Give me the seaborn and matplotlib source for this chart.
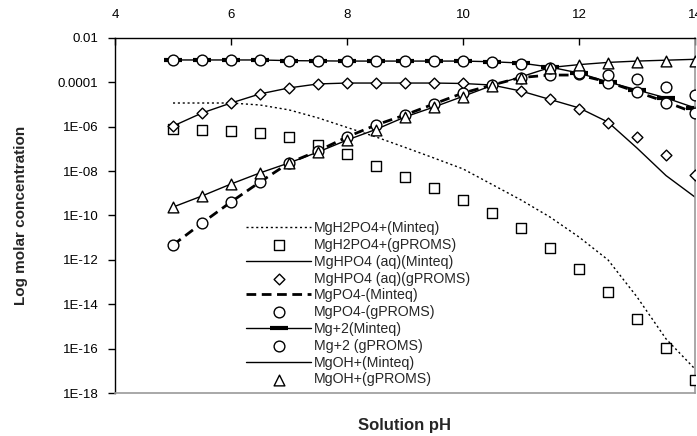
import numpy as np
import pandas as pd
import matplotlib
matplotlib.use("Agg")
import matplotlib.pyplot as plt
import seaborn as sns

# solution pH of every point
ph = [5, 5.5, 6, 6.5, 7, 7.5, 8, 8.5, 9, 9.5, 10, 10.5, 11, 11.5, 12, 12.5, 13, 13.5, 14]

# log10 of molar concentration
mgh2po4_minteq = [-4.93, -4.93, -4.93, -5.02, -5.24, -5.60, -6.03, -6.46, -6.93, -7.41,
                  -7.90, -8.60, -9.30, -10.07, -10.97, -12.00, -13.67, -15.56, -16.92]
mgh2po4_gproms = [-6.10, -6.15, -6.19, -6.28, -6.46, -6.82, -7.23, -7.77, -8.26, -8.76,
                  -9.30, -9.89, -10.56, -11.46, -12.41, -13.45, -14.66, -15.97, -17.41]
mghpo4_minteq = [-5.97, -5.38, -4.93, -4.52, -4.25, -4.07, -4.03, -4.03, -4.03, -4.03,
                 -4.05, -4.12, -4.39, -4.77, -5.15, -5.79, -6.96, -8.20, -9.17]
mghpo4_gproms = [-5.97, -5.38, -4.93, -4.52, -4.25, -4.07, -4.03, -4.03, -4.03, -4.03,
                 -4.03, -4.12, -4.39, -4.75, -5.20, -5.83, -6.46, -7.27, -8.17]
mgpo4_minteq = [-11.33, -10.34, -9.39, -8.49, -7.63, -7.09, -6.46, -5.92, -5.47, -4.97,
                -4.48, -4.12, -3.78, -3.67, -3.67, -3.98, -4.43, -4.88, -5.38]
mgpo4_gproms = [-11.33, -10.34, -9.39, -8.49, -7.63, -7.09, -6.46, -5.92, -5.47, -4.97,
                -4.48, -4.12, -3.80, -3.67, -3.62, -4.03, -4.43, -4.93, -5.38]
mg2_minteq = [-2.99, -2.99, -2.99, -2.99, -3.02, -3.03, -3.04, -3.04, -3.04, -3.04,
              -3.04, -3.07, -3.13, -3.31, -3.58, -3.98, -4.34, -4.70, -5.15]
mg2_gproms = [-2.99, -2.99, -2.99, -2.99, -3.04, -3.04, -3.04, -3.04, -3.04, -3.04,
              -3.04, -3.08, -3.17, -3.35, -3.58, -3.67, -3.85, -4.21, -4.57]
mgoh_minteq = [-9.62, -9.12, -8.58, -8.08, -7.63, -7.14, -6.60, -6.12, -5.56, -5.11,
               -4.63, -4.14, -3.75, -3.33, -3.20, -3.10, -3.04, -3.00, -2.96]
mgoh_gproms = [-9.62, -9.12, -8.58, -8.08, -7.63, -7.14, -6.60, -6.15, -5.56, -5.11,
               -4.66, -4.16, -3.80, -3.35, -3.22, -3.13, -3.08, -3.04, -3.04]

labels = ["MgH2PO4+(Minteq)", "MgH2PO4+(gPROMS)", "MgHPO4 (aq)(Minteq)",
          "MgHPO4 (aq)(gPROMS)", "MgPO4-(Minteq)", "MgPO4-(gPROMS)",
          "Mg+2(Minteq)", "Mg+2 (gPROMS)", "MgOH+(Minteq)", "MgOH+(gPROMS)"]
yticks = [1e-2, 1e-4, 1e-6, 1e-8, 1e-10, 1e-12, 1e-14, 1e-16, 1e-18]
ytick_labels = ["0.01", "0.0001", "1E-06", "1E-08", "1E-10", "1E-12", "1E-14",
                "1E-16", "1E-18"]

sns.set_style("white")
plt.rcParams["font.family"] = ["Liberation Sans", "DejaVu Sans"]

fig = plt.figure(figsize=(6.97, 4.36), dpi=100)
ax = fig.add_axes([115 / 697, 1 - 393 / 436, 580 / 697, 355 / 436])

x = np.array(ph)
conc = lambda v: 10.0 ** np.array(v)

# Minteq lines
sns.lineplot(x=x, y=conc(mgh2po4_minteq), ax=ax, color="black", lw=1,
             linestyle=(0, (1.5, 2)), label=labels[0], zorder=2)
sns.lineplot(x=x, y=conc(mghpo4_minteq), ax=ax, color="black", lw=1,
             label=labels[2], zorder=2)
sns.lineplot(x=x, y=conc(mgpo4_minteq), ax=ax, color="black", lw=2,
             linestyle=(0, (3.5, 2)), label=labels[4], zorder=2)
sns.lineplot(x=x, y=conc(mg2_minteq), ax=ax, color="black", lw=1, marker="_",
             markersize=13, markeredgewidth=3, markeredgecolor="black",
             label=labels[6], zorder=2)
sns.lineplot(x=x, y=conc(mgoh_minteq), ax=ax, color="black", lw=1,
             label=labels[8], zorder=2)

# gPROMS markers
mk = dict(ax=ax, color="white", edgecolor="black", linewidth=1, zorder=3)
sns.scatterplot(x=x, y=conc(mgh2po4_gproms), marker="s", s=45, label=labels[1], **mk)
sns.scatterplot(x=x, y=conc(mghpo4_gproms), marker="D", s=30, label=labels[3], **mk)
sns.scatterplot(x=x, y=conc(mgpo4_gproms), marker="o", s=60, label=labels[5], **mk)
sns.scatterplot(x=x, y=conc(mg2_gproms), marker="o", s=60, label=labels[7], **mk)
sns.scatterplot(x=x, y=conc(mgoh_gproms), marker="^", s=60, label=labels[9], **mk)

ax.set_yscale("log")
ax.set_xlim(4, 14)
ax.set_ylim(1e-18, 1e-2)
ax.set_yticks(yticks)
ax.set_yticklabels(ytick_labels)
ax.yaxis.set_minor_locator(matplotlib.ticker.NullLocator())
ax.set_xticks([4, 6, 8, 10, 12, 14])
ax.xaxis.tick_top()
ax.tick_params(axis="x", direction="in", length=5, width=1, pad=12,
               labelsize=9.5, colors="black")
ax.tick_params(axis="y", direction="out", length=5, width=1, pad=7,
               labelsize=9.5, colors="black", left=True)

for side in ["left", "top"]:
    ax.spines[side].set_color("black")
    ax.spines[side].set_linewidth(1)
for side in ["right", "bottom"]:
    ax.spines[side].set_color("#9a9a9a")
    ax.spines[side].set_linewidth(1.2)

ax.set_ylabel("Log molar concentration", fontsize=11, fontweight="bold")
ax.yaxis.set_label_coords(-0.15, 0.5)
ax.set_xlabel("Solution pH", fontsize=12, fontweight="bold")
ax.xaxis.set_label_position("bottom")
ax.xaxis.set_label_coords(0.5, -0.07)

handles, labs = ax.get_legend_handles_labels()
lookup = dict(zip(labs, handles))
ax.legend([lookup[l] for l in labels], labels, loc="upper left",
          bbox_to_anchor=(246 / 697, 1 - 221 / 436), bbox_transform=fig.transFigure,
          frameon=False, fontsize=10.2, handlelength=4.6, handletextpad=0.2,
          labelspacing=0.2, borderpad=0, borderaxespad=0, numpoints=1,
          scatterpoints=1)

fig.savefig("out.png", dpi=100)
